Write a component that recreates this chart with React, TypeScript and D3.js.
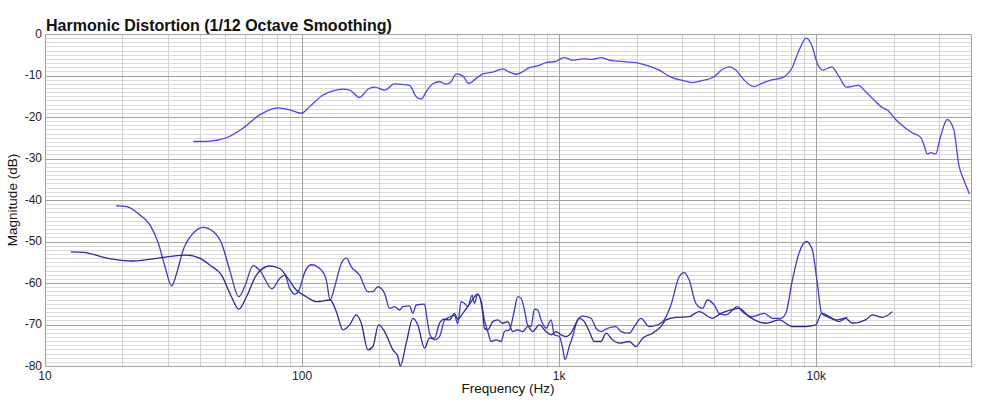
import React, { useEffect, useRef } from 'react';
import * as d3 from 'd3';

type Pt = [number, number];

// fundamental response (Hz, dB)
const fundamental: Pt[] = [
  [37.7, -25.9], [43.8, -25.8], [50.8, -25.0], [58.9, -22.7], [68.4, -19.5], [80.6, -17.8],
  [89.5, -18.3], [99.4, -19.1], [107, -17.5], [120.6, -14.7], [131.8, -13.7], [144.2, -13.3],
  [153.1, -13.5], [167.4, -15.3], [180.3, -13.3], [191.5, -12.8], [209.4, -13.5], [228.9, -12.0],
  [261.8, -12.4], [278, -15.1], [290.8, -15.7], [304.1, -13.9], [322.6, -12.0], [342.5, -11.5],
  [363.6, -12.1], [380.2, -11.5], [397.6, -9.6], [421.7, -10.1], [445, -11.9], [475.6, -10.7],
  [504.5, -9.6], [551.6, -9.2], [603.3, -8.4], [640.5, -9.2], [680.2, -9.7], [721.5, -9.1],
  [766.1, -8.1], [825.2, -7.7], [889.5, -6.9], [972.7, -6.6], [1002, -6.1], [1048, -5.7],
  [1128, -6.3], [1234, -6.0], [1349, -6.1], [1455, -5.7], [1567, -6.3], [1819, -6.7],
  [1990, -6.9], [2176, -7.5], [2451, -8.7], [2721, -10.4], [3019, -11.2], [3301, -11.7],
  [3610, -11.2], [4010, -10.3], [4319, -8.5], [4614, -7.9], [4869, -8.7], [5242, -11.1],
  [5733, -12.7], [6087, -12.0], [6657, -11.1], [7387, -10.5], [8076, -8.0], [8574, -3.9],
  [9152, -1.0], [9605, -2.7], [10100, -7.1], [10630, -8.7], [11490, -7.9], [12270, -10.3],
  [13090, -12.8], [14580, -12.4], [15570, -13.9], [16770, -15.9], [18070, -17.7], [18900, -18.3],
  [20370, -20.6], [22270, -22.7], [23630, -23.8], [25470, -24.9], [26240, -26.7], [27020, -28.9],
  [27860, -28.6], [29130, -28.9], [30450, -24.7], [32310, -20.6], [34310, -23.1], [35880, -31.6],
  [37520, -35.2], [39480, -38.6]
];

// 2nd harmonic
const secondHarmonic: Pt[] = [
  [18.9, -41.4], [20.8, -41.6], [23.4, -43.6], [25.6, -46.0], [27.6, -50.4], [29.3, -56.1],
  [31.1, -60.7], [32.5, -57.7], [34.5, -52.0], [37.7, -48.0], [41.2, -46.6], [45.1, -47.6],
  [48.6, -50.4], [52.3, -56.9], [56.7, -63.3], [59.8, -60.9], [64.5, -55.8], [68.4, -56.9],
  [76.4, -61.4], [81.8, -58.9], [85.6, -58.1], [89.5, -61.3], [93.6, -62.7], [97.9, -61.3],
  [102.3, -57.5], [108.7, -55.6], [118.9, -56.9], [124.3, -59.3], [128.6, -64.1], [133.9, -60.9],
  [142.1, -55.3], [148.6, -54.0], [155.4, -56.1], [167.4, -58.1], [180.3, -62.1], [188.6, -62.1],
  [197.2, -60.9], [209.4, -62.5], [218.9, -66.1], [228.9, -65.7], [239.4, -66.5], [246.6, -65.7],
  [261.8, -65.5], [269.7, -67.3], [278, -65.3], [299.5, -65.1], [304.1, -67.3], [313.2, -72.1],
  [327.5, -73.7], [342.5, -72.9], [358.1, -69.0], [374.5, -68.2], [391.6, -67.8], [403.3, -69.8],
  [415.7, -64.5], [428.2, -64.9], [441, -65.7], [458.7, -62.9], [468.2, -64.9], [482.4, -62.7],
  [497.3, -64.5], [512.2, -68.9], [527.6, -71.7], [543.8, -74.1], [568.7, -73.7], [594.7, -74.1],
  [612.6, -71.7], [640.5, -71.3], [669.9, -66.5], [690, -63.3], [711.2, -63.7], [732.6, -66.5],
  [754.5, -70.1], [777.8, -70.5], [801.2, -66.3], [825.2, -66.5], [850.6, -68.9], [889.5, -70.9],
  [930.3, -68.9], [958.2, -72.5], [1002, -72.9], [1032, -75.7], [1054, -78.4], [1095, -75.3],
  [1128, -72.9], [1180, -68.9], [1234, -68.0], [1330, -68.5], [1391, -70.9], [1455, -71.7],
  [1543, -70.9], [1664, -70.5], [1740, -71.7], [1874, -72.1], [1960, -70.5], [2081, -68.5],
  [2241, -70.5], [2414, -70.1], [2563, -68.9], [2721, -65.3], [2931, -58.5], [3065, -57.5],
  [3205, -59.3], [3403, -64.9], [3610, -66.1], [3776, -64.1], [4010, -65.3], [4193, -67.3],
  [4452, -67.7], [4939, -65.7], [5163, -66.9], [5647, -68.1], [6270, -67.3], [6753, -68.5],
  [7282, -68.5], [7615, -67.3], [8076, -59.3], [8574, -52.8], [9152, -50.0], [9656, -52.0],
  [10100, -60.1], [10500, -67.3], [11210, -68.3], [11910, -68.9], [13210, -68.3]
];

// 3rd harmonic
const thirdHarmonic: Pt[] = [
  [12.6, -52.5], [14.1, -52.6], [17.4, -54.0], [22.0, -54.7], [26.3, -54.2], [31.5, -53.5],
  [35.5, -53.3], [40.0, -54.0], [43.8, -55.7], [48.6, -58.1], [53.1, -63.3], [56.7, -66.3],
  [60.8, -63.3], [66.4, -58.1], [74.8, -55.9], [81.8, -56.5], [88.1, -58.9], [95.0, -61.7],
  [103.9, -63.3], [113.6, -64.5], [128.6, -64.1], [135.9, -66.9], [144.2, -71.3], [153.1, -70.1],
  [162.5, -67.7], [170, -69.7], [180.3, -76.1], [188.6, -75.3], [198.4, -70.1], [209.4, -71.7],
  [225.5, -76.1], [235.8, -77.7], [240.9, -80.0], [254.2, -74.5], [269.7, -68.5], [282, -70.1],
  [299.5, -75.7], [313.2, -73.3], [327.5, -73.3], [342.5, -69.7], [358.1, -68.7], [374.5, -68.9],
  [391.6, -67.3], [403.3, -68.7], [421.7, -67.3], [441, -65.7], [454.7, -64.5], [482.4, -62.7],
  [504.5, -67.3], [512.2, -70.9], [527.6, -71.3], [551.6, -69.3], [576.9, -68.9], [603.3, -69.7],
  [630.9, -69.3], [659.8, -71.7], [690, -71.3], [721.5, -71.7], [754.5, -70.5], [789, -71.7],
  [837.8, -70.1], [889.5, -71.7], [930.3, -72.5], [972.7, -71.7], [1017, -72.5], [1064, -72.9],
  [1112, -72.1], [1163, -69.7], [1198, -68.5], [1253, -69.3], [1310, -71.7], [1370, -74.1],
  [1455, -74.1], [1521, -72.1], [1614, -73.7], [1714, -74.5], [1874, -74.1], [1990, -75.3],
  [2111, -73.3], [2309, -72.1], [2488, -70.5], [2602, -68.9], [2846, -68.3], [3205, -68.1],
  [3505, -66.9], [3949, -68.5], [4258, -67.3], [4655, -66.5], [5013, -66.1], [5482, -68.1],
  [6366, -69.7], [7172, -68.9], [8076, -70.5], [9104, -70.5], [9956, -70.1], [10500, -67.3],
  [11550, -68.5], [12270, -69.3], [13020, -68.5], [13810, -69.7], [15570, -68.9], [16520, -67.7],
  [18070, -68.3], [19760, -66.9]
];

const yTicks = [0, -10, -20, -30, -40, -50, -60, -70, -80];
const xTicks = [10, 100, 1000, 10000];
const xTickLabels = ['10', '100', '1k', '10k'];

const series = [
  { data: fundamental, color: '#4a4ade' },
  { data: secondHarmonic, color: '#3b3bc0' },
  { data: thirdHarmonic, color: '#2b2b95' }
];

const W = 1004;
const H = 405;
const margin = { top: 34, right: 33, bottom: 39, left: 45 };
const font = '"Liberation Sans", Arial, Helvetica, sans-serif';

const App: React.FC = () => {
  const svgRef = useRef<SVGSVGElement>(null);

  useEffect(() => {
    if (!svgRef.current) return;
    const svg = d3.select(svgRef.current);
    svg.selectAll('*').remove();

    const x0 = margin.left;
    const x1 = W - margin.right;
    const y0 = margin.top;
    const y1 = H - margin.bottom;

    const x = d3.scaleLog().domain([10, 40000]).range([x0, x1]);
    const y = d3.scaleLinear().domain([-80, 0]).range([y1, y0]);

    svg.append('rect').attr('width', W).attr('height', H).attr('fill', '#fff');

    // minor grid
    const minorY = d3.range(-79, 0).filter(v => v % 10 !== 0);
    svg.append('g')
      .selectAll('line')
      .data(minorY)
      .join('line')
      .attr('x1', x0).attr('x2', x1)
      .attr('y1', d => Math.round(y(d)) + 0.5).attr('y2', d => Math.round(y(d)) + 0.5)
      .attr('stroke', '#dcdcdc').attr('stroke-width', 1);

    const minorX: number[] = [];
    [10, 100, 1000, 10000].forEach(dec => {
      for (let m = 2; m <= 9; m++) if (dec * m < 40000) minorX.push(dec * m);
    });
    svg.append('g')
      .selectAll('line')
      .data(minorX)
      .join('line')
      .attr('x1', d => Math.round(x(d)) + 0.5).attr('x2', d => Math.round(x(d)) + 0.5)
      .attr('y1', y0).attr('y2', y1)
      .attr('stroke', '#d0d0d0').attr('stroke-width', 1);

    // major grid
    svg.append('g')
      .selectAll('line')
      .data(yTicks.slice(1, -1))
      .join('line')
      .attr('x1', x0).attr('x2', x1)
      .attr('y1', d => Math.round(y(d)) + 0.5).attr('y2', d => Math.round(y(d)) + 0.5)
      .attr('stroke', '#a2a2a2').attr('stroke-width', 1);

    svg.append('g')
      .selectAll('line')
      .data(xTicks.slice(1))
      .join('line')
      .attr('x1', d => Math.round(x(d)) + 0.5).attr('x2', d => Math.round(x(d)) + 0.5)
      .attr('y1', y0).attr('y2', y1)
      .attr('stroke', '#a2a2a2').attr('stroke-width', 1);

    svg.append('rect')
      .attr('x', x0 + 0.5).attr('y', y0 + 0.5)
      .attr('width', x1 - x0).attr('height', y1 - y0)
      .attr('fill', 'none').attr('stroke', '#a2a2a2').attr('stroke-width', 1);

    // curves
    svg.append('defs').append('clipPath').attr('id', 'plot-clip')
      .append('rect').attr('x', x0).attr('y', y0).attr('width', x1 - x0).attr('height', y1 - y0 + 1);

    const line = d3.line<Pt>()
      .x(d => x(d[0]))
      .y(d => y(d[1]))
      .curve(d3.curveMonotoneX);

    const curves = svg.append('g').attr('clip-path', 'url(#plot-clip)');
    series.forEach(s => {
      curves.append('path')
        .attr('d', line(s.data))
        .attr('fill', 'none')
        .attr('stroke', s.color)
        .attr('stroke-width', 1.3)
        .attr('stroke-linejoin', 'round');
    });

    // tick labels
    svg.append('g')
      .selectAll('text')
      .data(yTicks)
      .join('text')
      .attr('x', x0 - 3)
      .attr('y', d => y(d) + 3.5)
      .attr('text-anchor', 'end')
      .attr('font-family', font)
      .attr('font-size', 12)
      .attr('fill', '#222')
      .text(d => String(d));

    svg.append('g')
      .selectAll('text')
      .data(xTicks)
      .join('text')
      .attr('x', d => x(d))
      .attr('y', y1 + 13.5)
      .attr('text-anchor', 'middle')
      .attr('font-family', font)
      .attr('font-size', 12)
      .attr('fill', '#222')
      .text((d, i) => xTickLabels[i]);

    // titles
    svg.append('text')
      .attr('x', 46).attr('y', 30.5)
      .attr('font-family', font)
      .attr('font-size', 16)
      .attr('font-weight', 'bold')
      .attr('fill', '#111')
      .text('Harmonic Distortion (1/12 Octave Smoothing)');

    svg.append('text')
      .attr('x', (x0 + x1) / 2).attr('y', 393)
      .attr('text-anchor', 'middle')
      .attr('font-family', font)
      .attr('font-size', 13.5)
      .attr('fill', '#111')
      .text('Frequency (Hz)');

    svg.append('text')
      .attr('transform', `translate(17,${(y0 + y1) / 2}) rotate(-90)`)
      .attr('text-anchor', 'middle')
      .attr('font-family', font)
      .attr('font-size', 13.5)
      .attr('fill', '#111')
      .text('Magnitude (dB)');
  }, []);

  return (
    <svg
      ref={svgRef}
      width={W}
      height={H}
      style={{ position: 'absolute', left: 0, top: 0, display: 'block' }}
    />
  );
};

export default App;
